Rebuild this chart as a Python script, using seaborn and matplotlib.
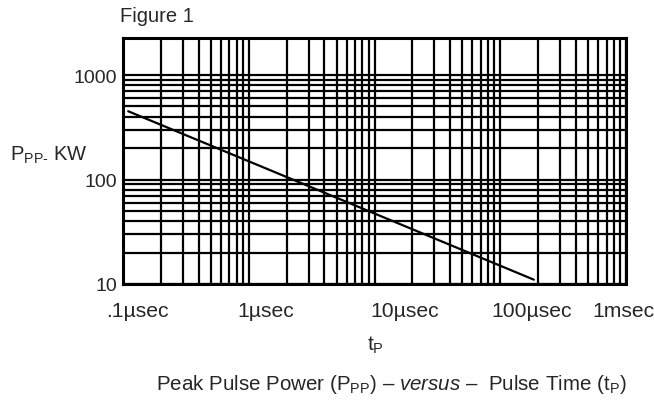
import matplotlib
matplotlib.use('Agg')
import matplotlib.pyplot as plt
import matplotlib.transforms as mtransforms
from matplotlib.ticker import LogLocator, NullFormatter, FixedLocator, FixedFormatter
import pandas as pd
import seaborn as sns

# Data (pulse time in microseconds, power in kW)
pulse_time_us = [0.11, 185]
peak_power_kw = [450, 11]

x_tick_values = [0.1, 1, 10, 100, 1000]
x_tick_labels = ['.1\u00b5sec', '1\u00b5sec', '10\u00b5sec', '100\u00b5sec', '1msec']
y_tick_values = [10, 100, 1000]
y_tick_labels = ['10', '100', '1000']
# horizontal grid only goes up to 1000 in the original
y_minor_values = [20, 30, 40, 50, 60, 70, 80, 90, 200, 300, 400, 500, 600, 700, 800, 900]

sns.set_style('white')
plt.rcParams['font.family'] = ['Liberation Sans', 'DejaVu Sans']
plt.rcParams['mathtext.fontset'] = 'custom'
plt.rcParams['mathtext.rm'] = 'Liberation Sans'
plt.rcParams['mathtext.it'] = 'Liberation Sans:italic'

df = pd.DataFrame({'t': pulse_time_us, 'p': peak_power_kw})

fig = plt.figure(figsize=(6.54, 4.02), dpi=100)
ax = fig.add_axes([123 / 654, 117 / 402, 503 / 654, 246 / 402])

sns.lineplot(data=df, x='t', y='p', ax=ax, color='black', linewidth=1.6)

ax.set_xscale('log')
ax.set_yscale('log')
ax.set_xlim(0.1, 1000)
ax.set_ylim(10, 2260)

ax.xaxis.set_major_locator(FixedLocator(x_tick_values))
ax.xaxis.set_major_formatter(FixedFormatter(x_tick_labels))
ax.xaxis.set_minor_locator(LogLocator(base=10, subs=range(2, 10)))
ax.xaxis.set_minor_formatter(NullFormatter())
ax.yaxis.set_major_locator(FixedLocator(y_tick_values))
ax.yaxis.set_major_formatter(FixedFormatter(y_tick_labels))
ax.yaxis.set_minor_locator(FixedLocator(y_minor_values))
ax.yaxis.set_minor_formatter(NullFormatter())

ax.grid(which='both', color='black', linewidth=1.6)
ax.tick_params(which='both', length=0)
ax.tick_params(axis='x', pad=12, labelsize=15.2)
ax.tick_params(axis='y', pad=4, labelsize=14)

# the 300 usec line is printed faint in the original
for tick in ax.xaxis.get_minor_ticks():
    if abs(tick.get_loc() - 300) < 1:
        tick.gridline.set_color('#c8c8c8')

for spine in ax.spines.values():
    spine.set_visible(True)
    spine.set_color('black')
    spine.set_linewidth(2.2)

ax.set_xlabel('')
ax.set_ylabel('')

# shift x labels like in the original print
label_dx = [14, 17, 30, 31, -3]
for lbl, dx in zip(ax.get_xticklabels(), label_dx):
    lbl.set_transform(lbl.get_transform() + mtransforms.ScaledTranslation(dx / 100, 0, fig.dpi_scale_trans))

fig.text(120 / 654, 1 - 17 / 402, 'Figure 1', fontsize=14.5, ha='left', va='center')
fig.text(10 / 654, 1 - 155 / 402, r'P$\mathregular{_{PP\text{-}}}$ KW', fontsize=14.5, ha='left', va='center')
fig.text(375 / 654, 1 - 345 / 402, r't$\mathregular{_P}$', fontsize=15, ha='center', va='center')
fig.text(391 / 654, 1 - 385 / 402,
         r'Peak Pulse Power (P$\mathregular{_{PP}}$) – $\mathit{versus}$ –  Pulse Time (t$\mathregular{_P}$)',
         fontsize=14.8, ha='center', va='center')

fig.savefig('out.png', dpi=100, facecolor='white')
